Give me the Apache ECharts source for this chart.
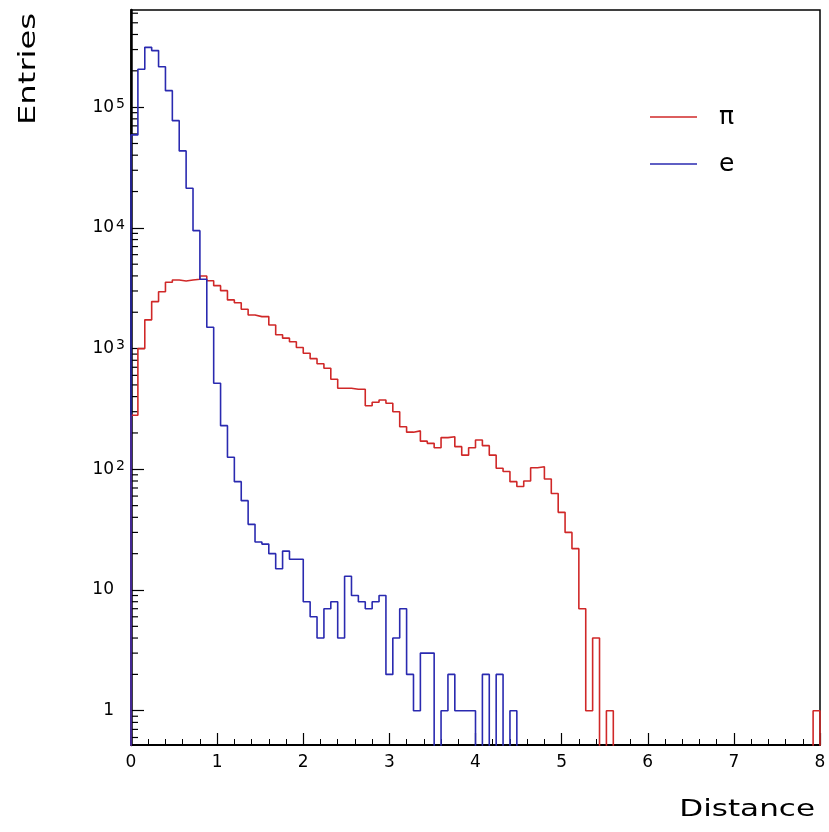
<!DOCTYPE html>
<html><head><meta charset="utf-8">
<script src="https://cdn.jsdelivr.net/npm/echarts@6/dist/echarts.min.js"></script>
<style>html,body{margin:0;padding:0;background:#fff}#c{width:829px;height:832px}</style>
</head><body><div id="c"></div>
<script>
// ---- data ----
const xMin = 0, xMax = 8;
const seriesNames = ['π', 'e'];
// 100 bins of width 0.08 on [0, 8]
const piCounts = [
  280, 1000, 1730, 2450, 2960, 3540, 3700, 3630, 3700, 3750,
  3990, 3650, 3320, 3020, 2530, 2400, 2120, 1900, 1840, 1840,
  1570, 1300, 1220, 1140, 1020, 914, 825, 748, 687, 557,
  469, 469, 460, 460, 336, 359, 375, 352, 300, 225,
  203, 208, 171, 164, 151, 183, 186, 154, 131, 151,
  175, 157, 131, 102, 96, 79, 72, 80, 103, 105,
  83, 63, 44, 30, 22, 7, 1, 4, 0, 1,
  0, 0, 0, 0, 0, 0, 0, 0, 0, 0,
  0, 0, 0, 0, 0, 0, 0, 0, 0, 0,
  0, 0, 0, 0, 0, 0, 0, 0, 0, 1
];
const eCounts = [
  58900, 206000, 313000, 294000, 216000, 137000, 77300, 43400, 21300, 9480,
  3750, 1500, 516, 230, 126, 79, 55, 35, 25, 24,
  20, 15, 21, 18, 18, 8, 6, 4, 7, 8,
  4, 13, 9, 8, 7, 8, 9, 2, 4, 7,
  2, 1, 3, 3, 0, 1, 2, 1, 1, 1,
  0, 2, 0, 2, 0, 1, 0, 0, 0, 0,
  0, 0, 0, 0, 0, 0, 0, 0, 0, 0,
  0, 0, 0, 0, 0, 0, 0, 0, 0, 0,
  0, 0, 0, 0, 0, 0, 0, 0, 0, 0,
  0, 0, 0, 0, 0, 0, 0, 0, 0, 0
];
const xTickLabels = ['0', '1', '2', '3', '4', '5', '6', '7', '8'];
const yTickValues = [1, 10, 100, 1000, 10000, 100000];
const yMin = 0.52, yMax = 638000;
const xTitle = 'Distance', yTitle = 'Entries';

// ---- helpers ----
const FLOOR = 1e-3; // empty bins fall below the frame (clipped)
function stepPoints(counts) {
  const w = (xMax - xMin) / counts.length;
  const pts = [[xMin, FLOOR]];
  counts.forEach((c, i) => pts.push([xMin + i * w, c > 0 ? c : FLOOR]));
  const last = counts[counts.length - 1];
  pts.push([xMax, last > 0 ? last : FLOOR]);
  pts.push([xMax, FLOOR]);
  return pts;
}
const minorTicks = [];
for (let e = -1; e <= 5; e++) {
  for (let k = 2; k <= 9; k++) {
    const v = k * Math.pow(10, e);
    if (v > yMin && v < yMax) minorTicks.push([xMin, v]);
  }
}
function yLabel(v) {
  const lg = Math.log10(v);
  const e = Math.round(lg);
  if (Math.abs(lg - e) > 1e-6 || yTickValues.indexOf(Math.pow(10, e)) < 0) return '';
  if (e === 0) return '1{sp| }';
  if (e === 1) return '10{sp| }';
  return '10{sup|' + e + '}';
}

const colors = ['#d02828', '#2a2ab0'];
const FONT = 'DejaVu Sans';

const chart = echarts.init(document.getElementById('c'), null, {renderer: 'canvas'});
chart.setOption({
  animation: false,
  backgroundColor: '#fff',
  grid: {left: 131, right: 9, top: 10, bottom: 87, show: true, borderColor: '#000', borderWidth: 1.5, backgroundColor: 'transparent'},
  legend: {
    data: seriesNames.map(n => ({name: n, icon: 'rect'})),
    orient: 'vertical',
    left: 645, top: 99.5,
    itemWidth: 47, itemHeight: 1.6, itemGap: 22,
    textStyle: {fontFamily: FONT, fontSize: 25, color: '#000', lineHeight: 14, padding: [0, 0, 0, 17]}
  },
  xAxis: {
    type: 'value', min: xMin, max: xMax, interval: 1,
    axisLine: {onZero: false, lineStyle: {color: '#000', width: 2}},
    axisTick: {inside: true, length: 12, lineStyle: {color: '#000', width: 1.2}},
    minorTick: {show: true, splitNumber: 5, length: 6, lineStyle: {color: '#000', width: 1}},
    splitLine: {show: false}, minorSplitLine: {show: false},
    axisLabel: {color: '#000', fontFamily: FONT, fontSize: 17, margin: 9,
      formatter: v => xTickLabels[Math.round(v - xMin)] || ''}
  },
  yAxis: {
    type: 'log', logBase: 10, min: yMin, max: yMax,
    axisLine: {show: true, onZero: false, lineStyle: {color: '#000', width: 2.5}},
    axisTick: {show: true, inside: true, length: 13, lineStyle: {color: '#000', width: 1.2}},
    splitLine: {show: false},
    axisLabel: {
      color: '#000', fontFamily: FONT, fontSize: 17, margin: 6,
      showMinLabel: false, showMaxLabel: false,
      formatter: yLabel,
      rich: {
        sup: {fontFamily: FONT, fontSize: 14, color: '#000', verticalAlign: 'top', padding: [0, 0, 6, 2]},
        sp: {fontFamily: FONT, fontSize: 14, width: 11}
      }
    }
  },
  series: [
    {name: seriesNames[0], type: 'line', step: 'end', data: stepPoints(piCounts), symbol: 'none', showSymbol: false,
      clip: true, lineStyle: {color: colors[0], width: 1.6}, itemStyle: {color: colors[0]}},
    {name: seriesNames[1], type: 'line', step: 'end', data: stepPoints(eCounts), symbol: 'none', showSymbol: false,
      clip: true, lineStyle: {color: colors[1], width: 1.6}, itemStyle: {color: colors[1]}},
    {type: 'custom', silent: true, data: minorTicks, encode: {x: 0, y: 1},
      renderItem: function (params, api) {
        const p = api.coord([api.value(0), api.value(1)]);
        return {type: 'line', shape: {x1: p[0], y1: p[1], x2: p[0] + 7, y2: p[1]},
          style: {stroke: '#000', lineWidth: 1.2}};
      }}
  ],
  graphic: [
    {type: 'text', x: 815, y: 810, scaleX: 1.35, scaleY: 1,
      style: {text: xTitle, font: '23px "DejaVu Sans"', fill: '#000', align: 'right', verticalAlign: 'middle'}},
    {type: 'text', x: 29.5, y: 125, rotation: Math.PI / 2, scaleX: 1.4, scaleY: 1,
      style: {text: yTitle, font: '23px "DejaVu Sans"', fill: '#000', align: 'left', verticalAlign: 'middle'}}
  ]
});
</script>
</body></html>
